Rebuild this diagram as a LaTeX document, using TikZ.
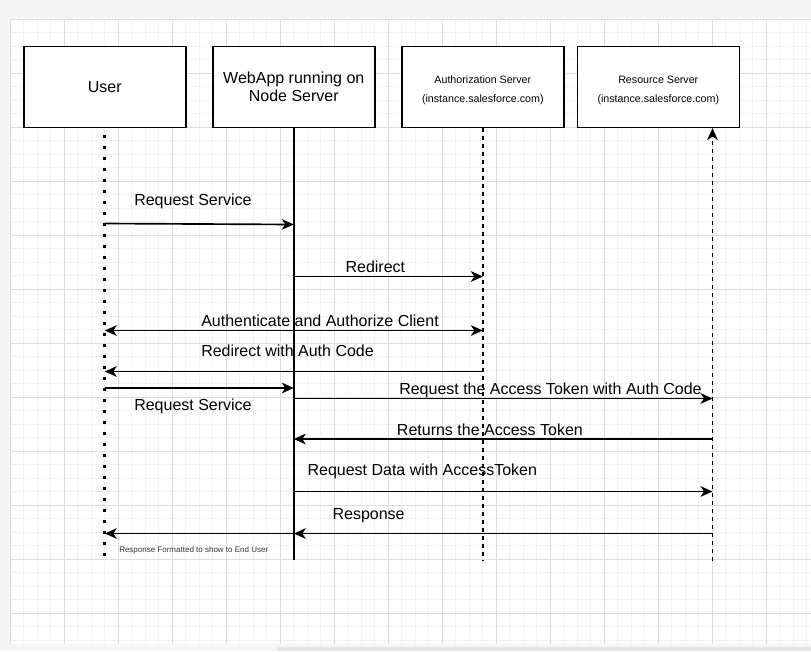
\documentclass[tikz,border=0pt]{standalone}
\usepackage{fontspec}
\setmainfont{Liberation Sans}
\usetikzlibrary{arrows.meta}
\definecolor{bggray}{HTML}{F5F5F5}
\definecolor{minorgrid}{HTML}{F2F2F2}
\definecolor{majorgrid}{HTML}{DDDDDD}
\definecolor{scrollgray}{HTML}{E6E6E6}
\definecolor{smalltext}{HTML}{333333}
\tikzset{
  actor/.style={draw=black, line width=1.2pt, fill=white, minimum width=121.5pt,
    minimum height=60.75pt, inner sep=0pt, align=center},
  bigfont/.style={font=\fontsize{12pt}{14pt}\selectfont},
  smallfont/.style={font=\fontsize{8pt}{14.5pt}\selectfont, align=center, inner sep=0pt},
  tip/.tip={Stealth[length=9pt,width=8pt,inset=2.6pt]},
  msg/.style={line width=1.25pt, -tip},
  dmsg/.style={line width=1.25pt, tip-tip},
  lbl/.style={font=\fontsize{12pt}{14pt}\selectfont, anchor=base west, inner sep=0pt},
  smalllbl/.style={font=\fontsize{6pt}{7pt}\selectfont, text=smalltext, anchor=base west, inner sep=0pt},
  userlife/.style={line width=2.25pt, dash pattern=on 2.25pt off 6pt},
  weblife/.style={line width=1.2pt},
  dashlife/.style={line width=1.2pt, dash pattern=on 3pt off 3pt},
}
\begin{document}
\begin{tikzpicture}[x=0.75pt,y=-0.75pt]
\useasboundingbox (0,0) rectangle (811,651);
% background and canvas
\fill[bggray] (0,0) rectangle (811,651);
\fill[white] (10.3,19.3) rectangle (811,644);
\foreach \i in {0,...,59} {
  \draw[minorgrid, line width=0.75pt] ({10.3+13.5*\i},19.3) -- ({10.3+13.5*\i},644);
}
\foreach \j in {0,...,46} {
  \draw[minorgrid, line width=0.75pt] (10.3,{19.3+13.5*\j}) -- (811,{19.3+13.5*\j});
}
\foreach \i in {0,...,14} {
  \draw[majorgrid, line width=0.75pt] ({10.3+54*\i},19.3) -- ({10.3+54*\i},644);
}
\foreach \j in {0,...,11} {
  \draw[majorgrid, line width=0.75pt] (10.3,{19.3+54*\j}) -- (811,{19.3+54*\j});
}
\fill[scrollgray] (277,646.5) rectangle (811,651);

% actors
\node[actor,bigfont] (user) at (104.8,86.8) {User};
\node[actor,bigfont] (web) at (293.8,86.8) {WebApp running on\\Node Server};
\node[actor] (auth) at (482.8,86.8) {};
\node[actor] (res) at (658.3,86.8) {};
\node[smallfont] (authtxt) at (482.8,90.5) {Authorization Server\\(instance.salesforce.com)};
\node[smallfont] (restxt) at (658.3,90.5) {Resource Server\\(instance.salesforce.com)};

% lifelines
\coordinate (uend) at (104.8,560);
\coordinate (rl) at (712.5,560.5);
\draw[userlife] (user |- 0,134.5) -- (uend);
\draw[weblife] (web.south) -- (web |- 0,560);
\draw[dashlife] (auth.south) -- (auth |- 0,560.5);
\draw[dashlife, -tip] (rl) -- (rl |- res.south);

% messages
\draw[msg] (user |- 0,223.5) -- (web |- 0,224.5);
\node[lbl] (l1) at (134,205) {Request Service};

\draw[msg] (web |- 0,276.5) -- (auth |- 0,276.5);
\node[lbl] (l2) at (345.3,272.7) {Redirect};

\draw[dmsg] (user |- 0,330.5) -- (auth |- 0,330.5);
\node[lbl] (l3) at (201,326.7) {Authenticate and Authorize Client};

\draw[msg] (auth |- 0,371.5) -- (user |- 0,371.5);
\node[lbl] (l4) at (201,356.7) {Redirect with Auth Code};

\draw[msg] (user |- 0,388) -- (web |- 0,388);
\node[lbl] (l5) at (134,410.7) {Request Service};

\draw[msg] (web |- 0,398.5) -- (rl |- 0,398.5);
\node[lbl] (l6) at (399,394) {Request the Access Token with Auth Code};

\draw[msg] (rl |- 0,439) -- (web |- 0,439);
\node[lbl] (l7) at (396.7,435) {Returns the Access Token};

\draw[msg] (web |- 0,491.5) -- (rl |- 0,491.5);
\node[lbl] (l8) at (307.3,475) {Request Data with AccessToken};

\draw[msg] (rl |- 0,533.5) -- (web |- 0,533.5);
\node[lbl] (l9) at (332.3,519) {Response};

\draw[msg] (web |- 0,533.5) -- (user |- 0,533.5);
\node[smalllbl] (l10) at (119,552.7) {Response Formatted to show to End User};
\end{tikzpicture}
\end{document}
